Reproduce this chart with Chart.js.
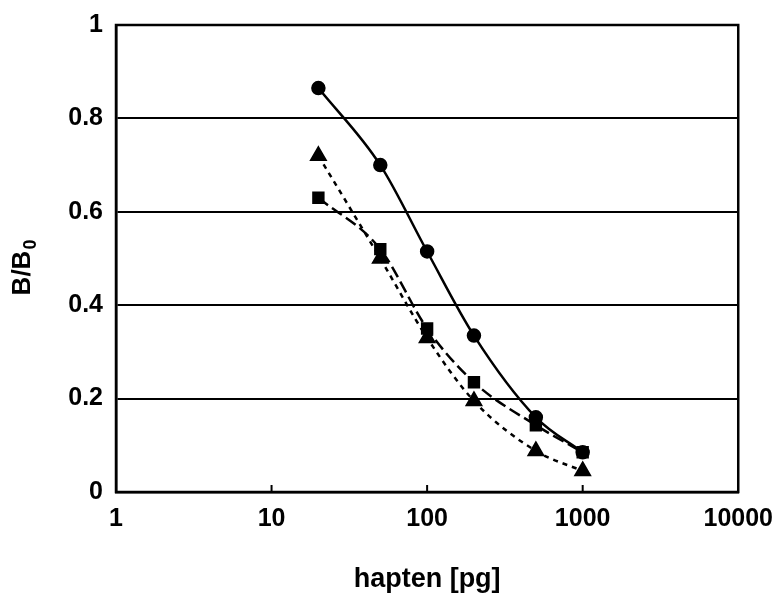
<!DOCTYPE html>
<html>
<head>
<meta charset="utf-8">
<script src="https://cdn.jsdelivr.net/npm/chart.js@4"></script>
<style>
  html, body { margin: 0; padding: 0; background: #fff; }
  #wrap { width: 777px; height: 596px; }
</style>
</head>
<body>
<div id="wrap"><canvas id="chart" width="777" height="596"></canvas></div>
<script>
const hapten = [20, 50, 100, 200, 500, 1000];
const circleSeries = [0.865, 0.70, 0.515, 0.335, 0.16, 0.085];
const squareSeries = [0.63, 0.52, 0.35, 0.235, 0.143, 0.085];
const triangleSeries = [0.72, 0.50, 0.33, 0.195, 0.088, 0.045];
const xTicks = [1, 10, 100, 1000, 10000];
const xMarks = [10, 100, 1000];

const FONT = '"Liberation Sans", Arial, sans-serif';

const toPoints = vals => vals.map((v, i) => ({ x: hapten[i], y: v }));

// frame, inner tick marks and the y title with subscript
const extras = {
  id: 'extras',
  afterDraw(chart) {
    const { ctx, chartArea: a, scales } = chart;
    ctx.save();
    ctx.strokeStyle = '#000';
    ctx.lineWidth = 2.5;
    ctx.strokeRect(a.left, a.top, a.right - a.left, a.bottom - a.top);
    ctx.lineWidth = 2;
    xMarks.forEach(v => {
      const px = scales.x.getPixelForValue(v);
      ctx.beginPath();
      ctx.moveTo(px, a.bottom);
      ctx.lineTo(px, a.bottom - 7);
      ctx.stroke();
    });
    // y title: B/B0
    ctx.translate(23, 268);
    ctx.rotate(-Math.PI / 2);
    ctx.fillStyle = '#000';
    ctx.textBaseline = 'middle';
    ctx.font = 'bold 26px ' + FONT;
    const main = 'B/B';
    const w = ctx.measureText(main).width;
    ctx.font = 'bold 18px ' + FONT;
    const sw = ctx.measureText('0').width;
    const x0 = -(w + sw) / 2;
    ctx.font = 'bold 26px ' + FONT;
    ctx.fillText(main, x0, 0);
    ctx.font = 'bold 18px ' + FONT;
    ctx.fillText('0', x0 + w + 1, 8);
    ctx.restore();
  }
};

new Chart(document.getElementById('chart'), {
  type: 'line',
  data: {
    datasets: [{
      data: toPoints(circleSeries),
      borderColor: '#000',
      backgroundColor: '#000',
      borderWidth: 2.5,
      pointStyle: 'circle',
      pointRadius: 6,
      cubicInterpolationMode: 'monotone'
    }, {
      data: toPoints(squareSeries),
      borderColor: '#000',
      backgroundColor: '#000',
      borderWidth: 2.5,
      borderDash: [12, 5],
      pointStyle: 'rect',
      pointRadius: 7,
      cubicInterpolationMode: 'monotone'
    }, {
      data: toPoints(triangleSeries),
      borderColor: '#000',
      backgroundColor: '#000',
      borderWidth: 2.5,
      borderDash: [5, 5],
      pointStyle: 'triangle',
      pointRadius: 8,
      cubicInterpolationMode: 'monotone'
    }]
  },
  options: {
    responsive: false,
    animation: false,
    layout: { padding: { top: 25, right: 35, left: 0, bottom: 0 } },
    plugins: { legend: { display: false }, tooltip: { enabled: false } },
    scales: {
      x: {
        type: 'logarithmic',
        min: 1,
        max: 10000,
        afterBuildTicks: scale => { scale.ticks = xTicks.map(v => ({ value: v })); },
        afterFit: scale => { scale.height = 104; },
        grid: { display: false },
        border: { color: '#000', width: 2.5 },
        ticks: {
          color: '#000',
          padding: 4,
          maxRotation: 0,
          autoSkip: false,
          font: { family: FONT, size: 25, weight: 'bold' },
          callback: v => String(v)
        },
        title: {
          display: true,
          text: 'hapten [pg]',
          color: '#000',
          padding: { top: 4, bottom: 0 },
          font: { family: FONT, size: 27, weight: 'bold' }
        }
      },
      y: {
        min: 0,
        max: 1,
        afterFit: scale => {
          scale.width = 116;
          scale.paddingTop = 0;
          scale.paddingBottom = 0;
        },
        grid: { color: '#000', lineWidth: 2, drawTicks: false },
        border: { color: '#000', width: 2.5 },
        ticks: {
          color: '#000',
          stepSize: 0.2,
          padding: 13,
          font: { family: FONT, size: 25, weight: 'bold' },
          callback: v => String(Math.round(v * 10) / 10)
        }
      }
    }
  },
  plugins: [extras]
});
</script>
</body>
</html>
